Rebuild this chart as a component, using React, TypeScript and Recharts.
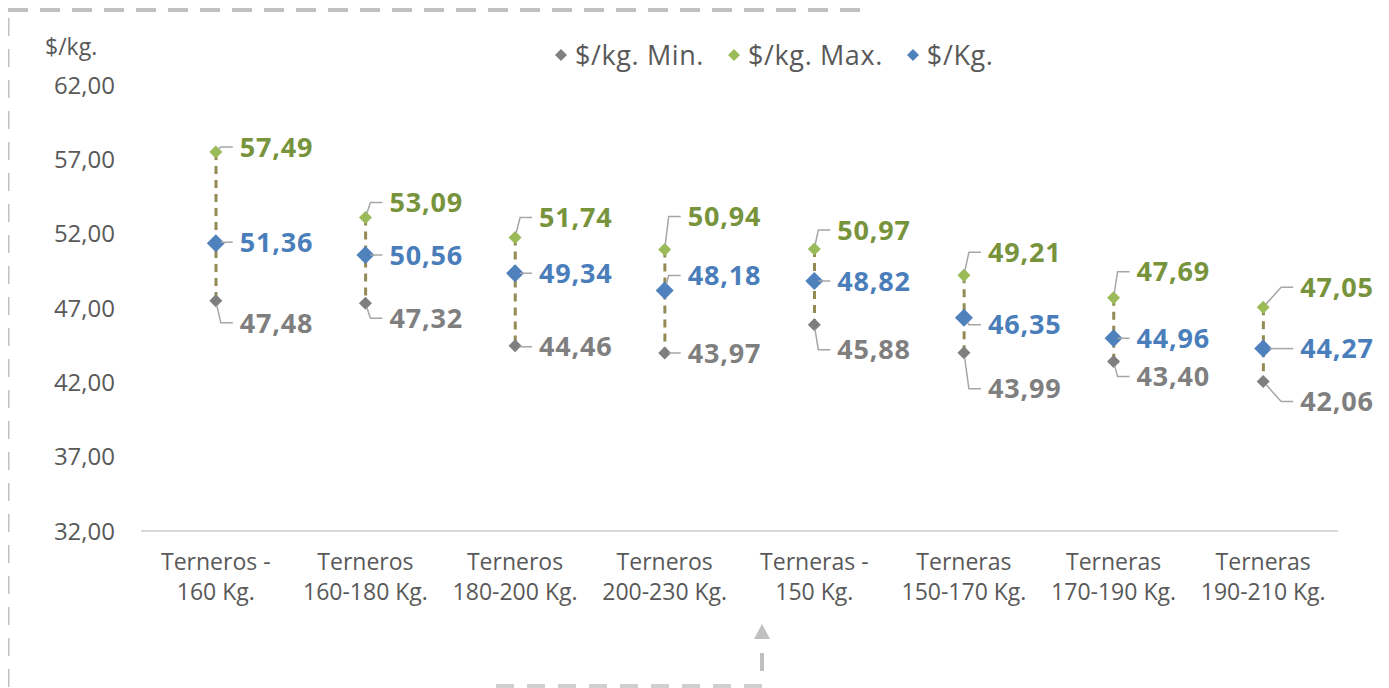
import React from "react";
import {
  ComposedChart,
  Bar,
  Line,
  XAxis,
  YAxis,
  Legend,
  LabelList,
} from "recharts";

const categories = [
  "Terneros -\n160 Kg.",
  "Terneros\n160-180 Kg.",
  "Terneros\n180-200 Kg.",
  "Terneros\n200-230 Kg.",
  "Terneras -\n150 Kg.",
  "Terneras\n150-170 Kg.",
  "Terneras\n170-190 Kg.",
  "Terneras\n190-210 Kg.",
];
const minValues = [47.48, 47.32, 44.46, 43.97, 45.88, 43.99, 43.4, 42.06];
const maxValues = [57.49, 53.09, 51.74, 50.94, 50.97, 49.21, 47.69, 47.05];
const avgValues = [51.36, 50.56, 49.34, 48.18, 48.82, 46.35, 44.96, 44.27];
const yTicks = [32, 37, 42, 47, 52, 57, 62];
const seriesNames = ["$/kg. Min.", "$/kg. Max.", "$/Kg."];

// label placement (pixel offsets from each marker)
const labelDx = [24, 24, 24, 23, 23, 24, 23, 37];
const maxLabelDy = [-5, -15, -20, -33, -19, -23, -26, -20];
const avgLabelDy = [-1, 0, 0, -15, 0, 7, 0, 0];
const minLabelDy = [22, 15, 1, 0, 25, 36, 15, 20];

const C_MIN = "#7f7f7f";
const C_MAX = "#9bbb59";
const C_AVG = "#4f81bd";
const T_MIN = "#7f7f7f";
const T_MAX = "#77933c";
const T_AVG = "#4a7ebb";
const TEXT = "#595959";
const FONT = "'Open Sans', sans-serif";

const rows = categories.map((c, i) => ({
  category: c,
  min: minValues[i],
  max: maxValues[i],
  avg: avgValues[i],
  range: [minValues[i], maxValues[i]],
}));

const fmt = (v: number) => v.toFixed(2).replace(".", ",");

const diamondPath = (cx: number, cy: number, r: number) =>
  `M${cx},${cy - r}L${cx + r},${cy}L${cx},${cy + r}L${cx - r},${cy}Z`;

const makeDot = (color: string, r: number, prefix: string) => (p: any) => {
  if (p.cx == null || p.cy == null) return <g key={`${prefix}-${p.index}`} />;
  return (
    <path
      key={`${prefix}-${p.index}`}
      d={diamondPath(p.cx, p.cy, r)}
      fill={color}
    />
  );
};

const makeLabel =
  (dyArr: number[], color: string, r: number) => (p: any) => {
    const { x, y, value, index } = p;
    if (x == null || y == null) return null;
    const mx = Number(x);
    const my = Number(y);
    const lx = mx + labelDx[index];
    const ly = my + dyArr[index];
    const edge = lx - 7;
    const h = Math.min(12, Math.max(0, edge - mx - 2));
    const cxp = edge - h;
    const ddx = mx - cxp;
    const ddy = my - ly;
    const len = Math.sqrt(ddx * ddx + ddy * ddy) || 1;
    const ex = mx - (ddx / len) * r * 0.7;
    const ey = my - (ddy / len) * r * 0.7;
    return (
      <g>
        <polyline
          points={`${edge},${ly} ${cxp},${ly} ${ex},${ey}`}
          fill="none"
          stroke="#a6a6a6"
          strokeWidth={1.5}
        />
        <text
          x={lx}
          y={ly}
          dy="0.36em"
          fill={color}
          fontSize={27}
          fontWeight={700}
          fontFamily={FONT}
          letterSpacing={0.8}
          textAnchor="start"
        >
          {fmt(Number(value))}
        </text>
      </g>
    );
  };

const HighLow = (p: any) => {
  const { x, y, width, height } = p;
  if (x == null || y == null) return <g />;
  const cx = x + width / 2;
  const top = Math.min(y, y + height);
  const bot = Math.max(y, y + height);
  return (
    <line
      x1={cx}
      x2={cx}
      y1={top}
      y2={bot}
      stroke="#948a54"
      strokeWidth={3}
      strokeDasharray="8 6"
    />
  );
};

const XTick = (p: any) => {
  const { x, y, payload } = p;
  const lines = String(payload.value).split("\n");
  return (
    <text
      x={x}
      y={y}
      textAnchor="middle"
      fill={TEXT}
      fontSize={23}
      fontFamily={FONT}
    >
      {lines.map((l, i) => (
        <tspan key={i} x={x} dy={i === 0 ? 39 : 30}>
          {l}
        </tspan>
      ))}
    </text>
  );
};

const legendColors = [C_MIN, C_MAX, C_AVG];

const LegendContent = () => (
  <div
    style={{
      display: "flex",
      alignItems: "center",
      fontFamily: FONT,
      fontSize: 27,
      color: TEXT,
      whiteSpace: "nowrap",
      lineHeight: "36px",
      letterSpacing: 0.6,
    }}
  >
    {seriesNames.map((n, i) => (
      <span
        key={n}
        style={{
          display: "flex",
          alignItems: "center",
          marginRight: i < seriesNames.length - 1 ? 23 : 0,
        }}
      >
        <svg width={14} height={14} style={{ display: "block" }}>
          <path d={diamondPath(7, 7, 6)} fill={legendColors[i]} />
        </svg>
        <span style={{ marginLeft: 7 }}>{n}</span>
      </span>
    ))}
  </div>
);

const YTitle = (p: any) => {
  const vb = p.viewBox || { x: 0, y: 85 };
  return (
    <text
      x={vb.x + 45}
      y={vb.y - 30}
      fill={TEXT}
      fontSize={23}
      fontFamily={FONT}
    >
      $/kg.
    </text>
  );
};

const Frame = () => (
  <svg
    width={1389}
    height={688}
    style={{ position: "absolute", left: 0, top: 0, pointerEvents: "none" }}
  >
    <line x1={8} y1={10} x2={860} y2={10} stroke="#c0c0c0" strokeWidth={4} strokeDasharray="20 12" />
    <line x1={858} y1={0} x2={858} y2={8} stroke="#c0c0c0" strokeWidth={4} />
    <line x1={7} y1={18} x2={7} y2={688} stroke="#c0c0c0" strokeWidth={5} strokeDasharray="18 13" />
    <line x1={496} y1={686} x2={770} y2={686} stroke="#cfcfcf" strokeWidth={4} strokeDasharray="18 13" />
    <line x1={762} y1={653} x2={762} y2={671} stroke="#c0c0c0" strokeWidth={4} />
    <path d="M762,624L770,639L754,639Z" fill="#c0c0c0" />
  </svg>
);

export default function App() {
  return (
    <div
      style={{
        position: "relative",
        width: 1389,
        height: 688,
        margin: "-8px -8px 0 -8px",
        overflow: "hidden",
        background: "#ffffff",
      }}
    >
      <Frame />
      <ComposedChart
        width={1389}
        height={688}
        data={rows}
        margin={{ top: 85, right: 51, bottom: 0, left: 0 }}
      >
        <XAxis
          dataKey="category"
          interval={0}
          height={157}
          tickLine={false}
          tickSize={0}
          tickMargin={0}
          axisLine={{ stroke: "#d9d9d9", strokeWidth: 2 }}
          tick={<XTick />}
        />
        <YAxis
          width={141}
          domain={[32, 62]}
          ticks={yTicks}
          type="number"
          allowDataOverflow
          axisLine={false}
          tickLine={false}
          tickSize={0}
          tickMargin={26}
          tickFormatter={(v: number) => fmt(v)}
          tick={{ fill: TEXT, fontSize: 24, fontFamily: FONT }}
          label={{ value: "$/kg.", content: <YTitle /> }}
        />
        <Legend
          layout="horizontal"
          verticalAlign="middle"
          align="center"
          content={<LegendContent />}
          wrapperStyle={{ top: 37, left: 554, width: "auto", height: "auto" }}
        />
        <Bar
          dataKey="range"
          barSize={10}
          shape={<HighLow />}
          isAnimationActive={false}
          legendType="none"
        />
        <Line
          dataKey="min"
          name={seriesNames[0]}
          stroke="none"
          dot={makeDot(C_MIN, 6.5, "min")}
          activeDot={false}
          isAnimationActive={false}
        >
          <LabelList dataKey="min" content={makeLabel(minLabelDy, T_MIN, 6.5)} />
        </Line>
        <Line
          dataKey="max"
          name={seriesNames[1]}
          stroke="none"
          dot={makeDot(C_MAX, 6.5, "max")}
          activeDot={false}
          isAnimationActive={false}
        >
          <LabelList dataKey="max" content={makeLabel(maxLabelDy, T_MAX, 6.5)} />
        </Line>
        <Line
          dataKey="avg"
          name={seriesNames[2]}
          stroke="none"
          dot={makeDot(C_AVG, 9, "avg")}
          activeDot={false}
          isAnimationActive={false}
        >
          <LabelList dataKey="avg" content={makeLabel(avgLabelDy, T_AVG, 9)} />
        </Line>
      </ComposedChart>
    </div>
  );
}
